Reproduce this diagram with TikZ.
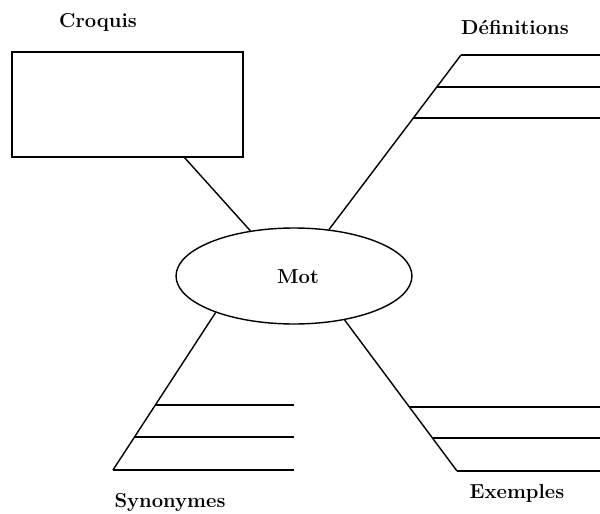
\documentclass[tikz,border=0pt]{standalone}
\usepackage{tikz}
\usetikzlibrary{shapes.geometric}

\begin{document}
\begin{tikzpicture}[x=0.02cm, y=-0.02cm,
	lbl/.style={font=\fontsize{11.5}{13}\selectfont\bfseries},
	leg/.style={line width=0.8pt},
	rung/.style={line width=1pt}]
	%%%%% START %%%%%
	\useasboundingbox (0, 0) rectangle (600, 514);

	\node[draw, line width=1.1pt, minimum width=4.62cm, minimum height=2.1cm, inner sep=0] (croquis) at (127.5, 104.5) {};
	\node[draw, ellipse, leg, minimum width=4.72cm, minimum height=1.92cm, inner sep=0] (mot) at (294, 276) {};
	\node[lbl] (motlbl) at (298, 277) {Mot};

	\node[lbl] (croquislbl) at (98, 22) {Croquis};
	\node[lbl] (deflbl) at (515, 27) {Définitions};
	\node[lbl] (synlbl) at (170, 502) {Synonymes};
	\node[lbl] (exlbl) at (517, 493) {Exemples};

	\coordinate (c0) at (184, 157);
	\coordinate (d0) at (461, 55);
	\coordinate (s0) at (113, 470);
	\coordinate (e0) at (457, 471);

	\draw[leg] (c0) -- (mot.134);
	\draw[leg] (mot.53) -- (d0);
	\draw[leg] (mot.205) -- (s0);
	\draw[leg] (mot.319) -- (e0);

	% lignes
	\foreach \xa/\y in {461/55, 437/87, 413/118}
		\draw[rung] (\xa, \y) -- (600, \y);
	\foreach \xa/\y in {156/405, 135/437, 113/470}
		\draw[rung] (\xa, \y) -- (294, \y);
	\foreach \xa/\y in {409/407, 433/438, 457/471}
		\draw[rung] (\xa, \y) -- (600, \y);

	%%%%% END %%%%%
\end{tikzpicture}
\end{document}
